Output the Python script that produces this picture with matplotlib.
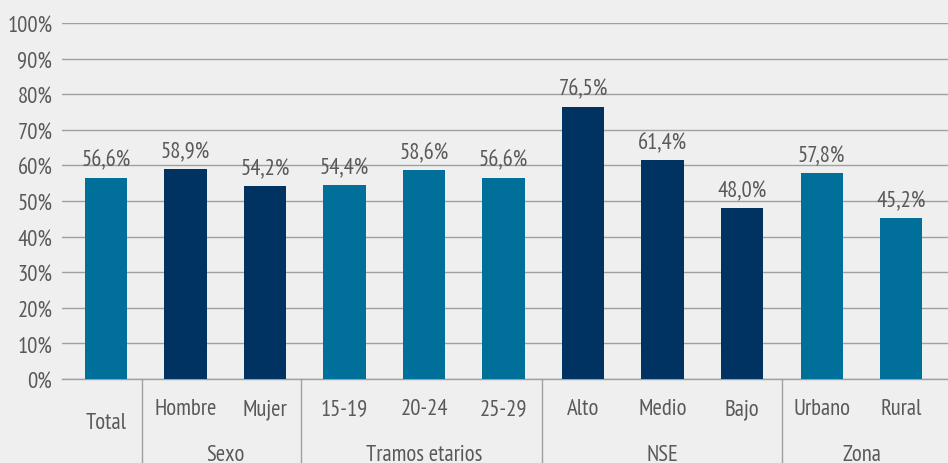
import matplotlib.pyplot as plt
from matplotlib.ticker import FuncFormatter

categories = ['Total', 'Hombre', 'Mujer', '15-19', '20-24', '25-29',
              'Alto', 'Medio', 'Bajo', 'Urbano', 'Rural']
values = [56.6, 58.9, 54.2, 54.4, 58.6, 56.6, 76.5, 61.4, 48.0, 57.8, 45.2]
groups = ['', 'Sexo', 'Sexo', 'Tramos etarios', 'Tramos etarios', 'Tramos etarios',
          'NSE', 'NSE', 'NSE', 'Zona', 'Zona']

teal = '#00709a'
navy = '#003361'
bar_colors = [teal, navy, navy, teal, teal, teal, navy, navy, navy, teal, teal]

plt.rcParams['font.family'] = ['PT Sans Narrow', 'DejaVu Sans']
txt = '#595959'
bg = '#efefef'
grid = '#a0a0a0'
fs = 16.3

fig = plt.figure(figsize=(9.48, 4.64), dpi=100, facecolor=bg)
ax = fig.add_axes([62 / 948, 84 / 464, 886 / 948, 356 / 464], facecolor=bg)

x = list(range(len(categories)))
bars = ax.bar(x, values, width=0.53, color=bar_colors, zorder=3)

for xi, v in zip(x, values):
    ax.annotate(f'{v:.1f}%'.replace('.', ','), (xi, v), xytext=(0, 5),
                textcoords='offset points', ha='center', va='bottom',
                fontsize=fs, color=txt, zorder=4)

ax.set_ylim(0, 100)
ax.set_xlim(-0.553, 10.59)
ax.set_yticks(range(0, 101, 10))
ax.yaxis.set_major_formatter(FuncFormatter(lambda v, p: f'{int(v)}%'))
ax.tick_params(axis='y', length=0, pad=7, labelsize=fs, labelcolor=txt)
ax.set_xticks([])
ax.yaxis.grid(True, color=grid, linewidth=1, zorder=0)
for s in ['left', 'right', 'top']:
    ax.spines[s].set_visible(False)
ax.spines['bottom'].set_color(grid)
ax.spines['bottom'].set_linewidth(1)

trans = ax.get_xaxis_transform()
for xi, cat, g in zip(x, categories, groups):
    yy = -0.121 if g == '' else -0.084
    ax.text(xi, yy, cat, transform=trans, ha='center', va='center',
            fontsize=fs, color=txt)

# group labels and separators
spans = {}
for xi, g in zip(x, groups):
    if g:
        spans.setdefault(g, []).append(xi)
for g, xs in spans.items():
    ax.text(sum(xs) / len(xs), -0.212, g, transform=trans, ha='center',
            va='center', fontsize=fs, color=txt)
for b in [0.45, 2.45, 5.48, 8.5]:
    ax.plot([b, b], [0, -0.25], transform=trans, color=grid, linewidth=1,
            clip_on=False)

fig.savefig('out.png', dpi=100, facecolor=bg)
